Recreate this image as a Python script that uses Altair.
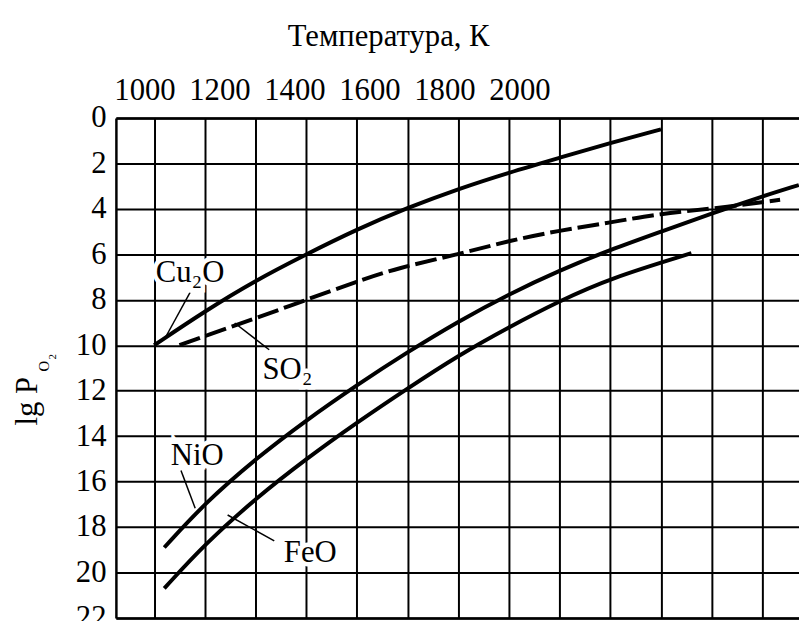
import altair as alt
import pandas as pd

FONT = "Liberation Serif"
FS = 31

# ---- data ----
cu_T = [1000, 1100, 1200, 1300, 1400, 1500, 1600, 1700, 1800, 1900, 2000]
cu_v = [10.0, 8.5, 7.15, 6.0, 4.9, 3.95, 3.12, 2.4, 1.75, 1.1, 0.5]

so_T = [1050, 1100, 1200, 1300, 1400, 1480, 1600, 1700, 1800, 1900, 2000, 2100, 2235]
so_v = [10.0, 9.6, 8.82, 8.0, 7.2, 6.6, 6.0, 5.4, 4.95, 4.6, 4.2, 4.0, 3.6]

ni_T = [1020, 1100, 1200, 1300, 1400, 1500, 1600, 1700, 1800, 1900, 2000, 2100, 2200, 2272]
ni_v = [18.9, 16.95, 15.0, 13.3, 11.75, 10.3, 8.95, 7.75, 6.7, 5.8, 5.0, 4.2, 3.45, 2.95]

fe_T = [1020, 1100, 1200, 1300, 1400, 1500, 1600, 1700, 1800, 1900, 2060]
fe_v = [20.7, 18.75, 16.75, 15.0, 13.4, 11.9, 10.45, 9.2, 8.05, 7.05, 5.95]

grid_T = [1000, 1100, 1200, 1300, 1400, 1500, 1600, 1700, 1800, 1900, 2000, 2100, 2200]
y_ticks = [0, 2, 4, 6, 8, 10, 12, 14, 16, 18, 20, 22]
top_ticks = [1000, 1200, 1400, 1600, 1800, 2000]

lab_names = ["Cu₂O", "SO₂", "NiO", "FeO"]
lab_T = [1071, 1263, 1085, 1308]
lab_v = [7.23, 11.5, 15.29, 19.56]

lead_T1 = [1071, 1159, 1053, 1237]
lead_v1 = [7.67, 9.02, 15.51, 18.61]
lead_T2 = [1022, 1227, 1081, 1145]
lead_v2 = [9.67, 10.2, 17.17, 17.47]

# ---- tables ----
rows = []
for name, T, v in [("Cu2O", cu_T, cu_v), ("NiO", ni_T, ni_v), ("FeO", fe_T, fe_v)]:
    for t, val in zip(T, v):
        rows.append({"T": t, "v": val, "s": name})
solid = pd.DataFrame(rows)
so2 = pd.DataFrame({"T": so_T, "v": so_v})
labels = pd.DataFrame({"name": lab_names, "T": lab_T, "v": lab_v})
leaders = pd.DataFrame({"T1": lead_T1, "v1": lead_v1, "T2": lead_T2, "v2": lead_v2})
tops = pd.DataFrame({"t": top_ticks})

xscale = alt.Scale(domain=[924.6, 2272.3], nice=False, zero=False)
yscale = alt.Scale(domain=[0, 22], reverse=True, nice=False, zero=False)

xaxis = alt.Axis(orient="bottom", values=grid_T, labels=False, ticks=False, title=None,
                 grid=True, gridColor="black", gridWidth=2, gridOpacity=1,
                 domain=True, domainColor="black", domainWidth=2.5)
yaxis = alt.Axis(orient="left", values=y_ticks, title=None, ticks=False, tickSize=0,
                 labelFont=FONT, labelFontSize=FS, labelColor="black", labelPadding=10,
                 labelBaseline="middle",
                 grid=True, gridColor="black", gridWidth=2, gridOpacity=1,
                 domain=True, domainColor="black", domainWidth=2.5)

X = alt.X("T:Q", scale=xscale, axis=xaxis)
Y = alt.Y("v:Q", scale=yscale, axis=yaxis)

curves = alt.Chart(solid).mark_line(color="black", strokeWidth=4, interpolate="basis").encode(
    x=X, y=Y, detail="s:N")

dashed = alt.Chart(so2).mark_line(color="black", strokeWidth=4, strokeDash=[22, 6],
                                  interpolate="basis").encode(
    x=alt.X("T:Q", scale=xscale), y=alt.Y("v:Q", scale=yscale))

lead = alt.Chart(leaders).mark_rule(color="black", strokeWidth=1.5).encode(
    x=alt.X("T1:Q", scale=xscale), x2="T2:Q",
    y=alt.Y("v1:Q", scale=yscale), y2="v2:Q")

halo = alt.Chart(labels).mark_text(font=FONT, fontSize=FS, color="white", stroke="white",
                                   strokeWidth=9, align="center", baseline="alphabetic").encode(
    x=alt.X("T:Q", scale=xscale), y=alt.Y("v:Q", scale=yscale), text="name:N")

txt = alt.Chart(labels).mark_text(font=FONT, fontSize=FS, color="black",
                                  align="center", baseline="alphabetic").encode(
    x=alt.X("T:Q", scale=xscale), y=alt.Y("v:Q", scale=yscale), text="name:N")

ytitle_main = alt.Chart(tops.head(1)).mark_text(
    text="lg P", font=FONT, fontSize=FS, color="black", angle=270,
    align="center", baseline="alphabetic").encode(x=alt.value(-80), y=alt.value(286))
ytitle_o = alt.Chart(tops.head(1)).mark_text(
    text="O", font=FONT, fontSize=15, color="black", angle=270,
    align="left", baseline="alphabetic").encode(x=alt.value(-68), y=alt.value(256))
ytitle_2 = alt.Chart(tops.head(1)).mark_text(
    text="2", font=FONT, fontSize=11, color="black", angle=270,
    align="left", baseline="alphabetic").encode(x=alt.value(-61), y=alt.value(244))

toplayer = alt.Chart(tops).mark_point(opacity=0).encode(
    x=alt.X("t:Q",
            scale=alt.Scale(domain=[923.8, 2745.8], nice=False, zero=False),
            axis=alt.Axis(orient="top", values=top_ticks, format="d",
                          title="Температура, К", titleFont=FONT, titleFontSize=FS,
                          titleFontWeight="normal", titleColor="black",
                          titleX=275, titleY=-73, titleAlign="center",
                          titleBaseline="alphabetic", titleAngle=0,
                          labelFont=FONT, labelFontSize=FS, labelColor="black",
                          labelBaseline="alphabetic", labelPadding=19,
                          ticks=False, tickSize=0, grid=False,
                          domain=True, domainColor="black", domainWidth=2.5)))

main = alt.layer(curves, dashed, lead, halo, txt, ytitle_main, ytitle_o, ytitle_2)

chart = alt.layer(main, toplayer).resolve_scale(x="independent").properties(
    width=690, height=505,
    autosize=alt.AutoSizeParams(type="none"),
    padding={"left": 109, "top": 108, "right": 0, "bottom": 0},
    background="white",
).configure(font=FONT).configure_axis(
    labelFont=FONT, titleFont=FONT, labelFontSize=FS, titleFontSize=FS
).configure_text(font=FONT).configure_view(strokeWidth=0)

chart.save("out.html", embed_options={"renderer": "svg", "actions": False})
